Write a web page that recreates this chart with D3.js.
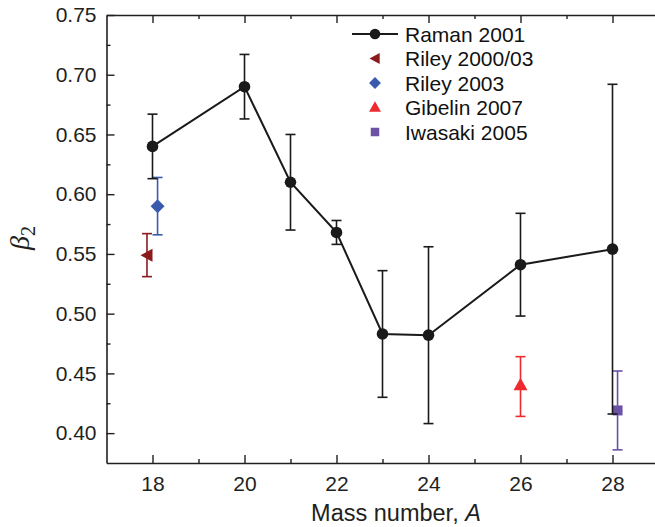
<!DOCTYPE html>
<html>
<head>
<meta charset="utf-8">
<script src="https://cdn.jsdelivr.net/npm/d3@7"></script>
<style>
  body { margin: 0; background: #fff; }
  svg { display: block; font-family: "Liberation Sans", Arial, sans-serif; }
</style>
</head>
<body>
<svg id="chart" width="655" height="527"></svg>
<script>
// Raman 2001
const ramanA = [18, 20, 21, 22, 23, 24, 26, 28];
const ramanB = [0.640, 0.690, 0.610, 0.568, 0.483, 0.482, 0.541, 0.554];
const ramanLo = [0.613, 0.663, 0.570, 0.558, 0.430, 0.408, 0.498, 0.416];
const ramanHi = [0.667, 0.717, 0.650, 0.578, 0.536, 0.556, 0.584, 0.692];

// single points of the other experiments (A slightly offset as drawn)
const otherNames = ["Riley 2000/03", "Riley 2003", "Gibelin 2007", "Iwasaki 2005"];
const otherA = [17.88, 18.11, 26, 28.11];
const otherB = [0.549, 0.590, 0.440, 0.419];
const otherLo = [0.531, 0.566, 0.414, 0.386];
const otherHi = [0.567, 0.614, 0.464, 0.452];
const otherColors = ["#8b1a1e", "#3a5bad", "#ee2a2e", "#6b52a5"];
const otherSymbols = ["triLeft", "diamond", "triUp", "square"];

const xTicks = [18, 20, 22, 24, 26, 28];
const xMinor = [19, 21, 23, 25, 27];
const yTicks = [0.40, 0.45, 0.50, 0.55, 0.60, 0.65, 0.70, 0.75];
const yMinor = [0.425, 0.475, 0.525, 0.575, 0.625, 0.675, 0.725];

const svg = d3.select("#chart");
const plotL = 106.5, plotR = 658.5, plotT = 15, plotB = 463;
const axisColor = "#231f20";

const x = d3.scaleLinear().domain([17, 29]).range([plotL, plotR]);
const y = d3.scaleLinear().domain([0.375, 0.75]).range([plotB, plotT]);

function styleAxis(g) {
  g.select(".domain").attr("stroke", axisColor).attr("stroke-width", 1.6);
  g.selectAll(".tick line").attr("stroke", axisColor).attr("stroke-width", 1.4);
  g.selectAll("text").attr("fill", "#231f20").style("font-size", "21px")
    .attr("font-family", "'Liberation Sans', Arial, sans-serif");
}

// bottom axis
svg.append("g").attr("transform", "translate(0," + plotB + ")")
  .call(d3.axisBottom(x).tickValues(xTicks).tickSize(-8).tickPadding(13).tickSizeOuter(0))
  .call(styleAxis);
svg.append("g").attr("transform", "translate(0," + plotB + ")")
  .call(d3.axisBottom(x).tickValues(xMinor).tickSize(-4).tickFormat("").tickSizeOuter(0))
  .call(styleAxis).select(".domain").remove();

// top axis
svg.append("g").attr("transform", "translate(0," + plotT + ")")
  .call(d3.axisTop(x).tickValues(xTicks).tickSize(-8).tickFormat("").tickSizeOuter(0))
  .call(styleAxis);
svg.append("g").attr("transform", "translate(0," + plotT + ")")
  .call(d3.axisTop(x).tickValues(xMinor).tickSize(-4).tickFormat("").tickSizeOuter(0))
  .call(styleAxis).select(".domain").remove();

// left axis
svg.append("g").attr("transform", "translate(" + plotL + ",0)")
  .call(d3.axisLeft(y).tickValues(yTicks).tickSize(-8).tickPadding(10).tickSizeOuter(0).tickFormat(d3.format(".2f")))
  .call(styleAxis);
svg.append("g").attr("transform", "translate(" + plotL + ",0)")
  .call(d3.axisLeft(y).tickValues(yMinor).tickSize(-4).tickFormat("").tickSizeOuter(0))
  .call(styleAxis).select(".domain").remove();

// axis titles
const xt = svg.append("text").attr("x", 396).attr("y", 521)
  .attr("text-anchor", "middle").style("font-size", "23.5px").attr("fill", "#231f20");
xt.append("tspan").text("Mass number, ");
xt.append("tspan").attr("font-style", "italic").text("A");

const yt = svg.append("text").attr("transform", "translate(29,238) rotate(-90)")
  .attr("text-anchor", "middle").attr("fill", "#231f20")
  .attr("font-family", "'Liberation Serif', 'Times New Roman', serif");
yt.append("tspan").attr("font-style", "italic").style("font-size", "28px").text("β");
yt.append("tspan").attr("dy", 6).style("font-size", "20px").text("2");

// symbols
function symbolPath(kind) {
  if (kind === "triLeft") return "M-6.5,0L5.5,-6.5L5.5,6.5Z";
  if (kind === "diamond") return "M0,-7L7,0L0,7L-7,0Z";
  if (kind === "triUp") return "M0,-7.5L7,5L-7,5Z";
  return "M-5,-5L5,-5L5,5L-5,5Z";
}

function errorBar(g, xv, lo, hi, color, w) {
  const cx = x(xv);
  g.append("line").attr("x1", cx).attr("x2", cx).attr("y1", y(lo)).attr("y2", y(hi))
    .attr("stroke", color).attr("stroke-width", w);
  [lo, hi].forEach(v => {
    g.append("line").attr("x1", cx - 5).attr("x2", cx + 5).attr("y1", y(v)).attr("y2", y(v))
      .attr("stroke", color).attr("stroke-width", w);
  });
}

// other experiments
const og = svg.append("g");
otherA.forEach((a, i) => {
  errorBar(og, a, otherLo[i], otherHi[i], otherColors[i], 1.6);
});

// Raman error bars, line and points
const rg = svg.append("g");
ramanA.forEach((a, i) => errorBar(rg, a, ramanLo[i], ramanHi[i], "#1a1a1a", 1.6));

const line = d3.line().x(d => x(d[0])).y(d => y(d[1]));
rg.append("path").datum(ramanA.map((a, i) => [a, ramanB[i]]))
  .attr("d", line).attr("fill", "none").attr("stroke", "#1a1a1a").attr("stroke-width", 2);
rg.selectAll("circle").data(ramanA).enter().append("circle")
  .attr("cx", d => x(d)).attr("cy", (d, i) => y(ramanB[i])).attr("r", 5.8).attr("fill", "#1a1a1a");

og.selectAll("path.sym").data(otherA).enter().append("path").attr("class", "sym")
  .attr("transform", (d, i) => "translate(" + x(d) + "," + y(otherB[i]) + ")")
  .attr("d", (d, i) => symbolPath(otherSymbols[i]))
  .attr("fill", (d, i) => otherColors[i]);

// legend
const legend = svg.append("g").attr("transform", "translate(375,0)");
const rowY = [34, 58.5, 83, 107.5, 132];
legend.append("line").attr("x1", -23).attr("x2", 23).attr("y1", rowY[0]).attr("y2", rowY[0])
  .attr("stroke", "#1a1a1a").attr("stroke-width", 2);
legend.append("circle").attr("cx", 0).attr("cy", rowY[0]).attr("r", 5.3).attr("fill", "#1a1a1a");
legend.append("text").attr("x", 30).attr("y", rowY[0] + 7.5).style("font-size", "21px")
  .attr("fill", "#111").text("Raman 2001");
otherNames.forEach((name, i) => {
  legend.append("path").attr("transform", "translate(0," + rowY[i + 1] + ") scale(0.85)")
    .attr("d", symbolPath(otherSymbols[i])).attr("fill", otherColors[i]);
  legend.append("text").attr("x", 30).attr("y", rowY[i + 1] + 7.5).style("font-size", "21px")
    .attr("fill", "#111").text(name);
});
</script>
</body>
</html>
